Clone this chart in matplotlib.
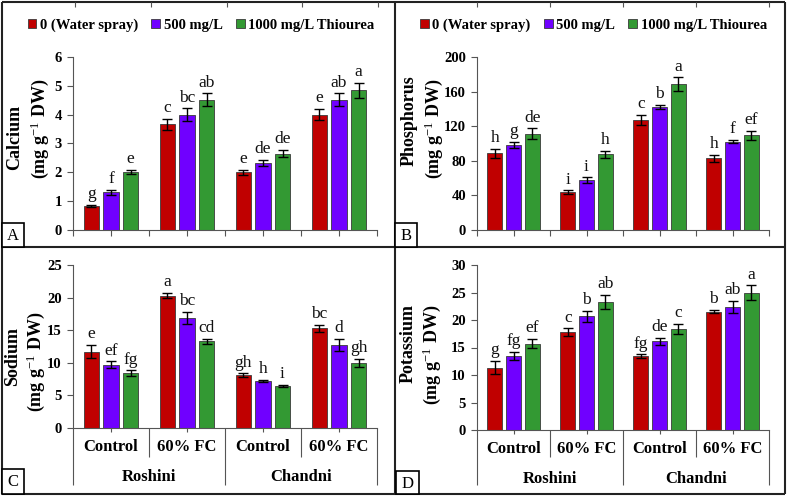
import matplotlib
matplotlib.use("Agg")
import matplotlib.pyplot as plt
from matplotlib.lines import Line2D
from matplotlib.patches import Rectangle, Patch
import numpy as np

plt.rcParams['font.family'] = ['Liberation Serif', 'DejaVu Serif']
plt.rcParams['mathtext.fontset'] = 'custom'
plt.rcParams['mathtext.rm'] = 'Liberation Serif'
plt.rcParams['mathtext.it'] = 'Liberation Serif:italic'
plt.rcParams['mathtext.bf'] = 'Liberation Serif:bold'

# ---------------- data ----------------
series = ['0 (Water spray)', '500 mg/L', '1000 mg/L Thiourea']
colors = ['#C00000', '#7000FF', '#339933']
treatments = ['Control', '60% FC', 'Control', '60% FC']
cultivars = ['Roshini', 'Chandni']

ca_mean = [[0.83, 3.66, 2.00, 4.00],
           [1.31, 4.00, 2.33, 4.52],
           [2.01, 4.52, 2.65, 4.84]]
ca_err = [[0.03, 0.20, 0.08, 0.20],
          [0.08, 0.22, 0.10, 0.22],
          [0.08, 0.22, 0.13, 0.25]]
ca_let = [['g', 'c', 'e', 'e'], ['f', 'bc', 'de', 'ab'], ['e', 'ab', 'de', 'a']]

p_mean = [[88.5, 43.8, 126.9, 83.0],
          [98.8, 57.7, 142.3, 102.3],
          [111.5, 87.7, 168.5, 109.6]]
p_err = [[5.0, 2.0, 6.0, 4.0],
         [3.5, 3.0, 2.0, 1.5],
         [6.0, 4.0, 8.0, 5.0]]
p_let = [['h', 'i', 'c', 'h'], ['g', 'i', 'b', 'f'], ['de', 'h', 'a', 'ef']]

na_mean = [[11.73, 20.30, 8.06, 15.30],
           [9.70, 16.90, 7.24, 12.76],
           [8.40, 13.30, 6.48, 9.95]]
na_err = [[1.07, 0.40, 0.30, 0.50],
          [0.50, 0.90, 0.15, 0.90],
          [0.45, 0.40, 0.15, 0.60]]
na_let = [['e', 'a', 'gh', 'bc'], ['ef', 'bc', 'h', 'd'], ['fg', 'cd', 'i', 'gh']]

k_mean = [[11.33, 17.76, 13.45, 21.50],
          [13.50, 20.70, 16.10, 22.40],
          [15.70, 23.30, 18.40, 25.00]]
k_err = [[1.20, 0.70, 0.30, 0.30],
         [0.70, 1.00, 0.70, 1.10],
         [0.80, 1.30, 0.90, 1.30]]
k_let = [['g', 'c', 'fg', 'b'], ['fg', 'b', 'de', 'ab'], ['ef', 'ab', 'c', 'a']]

unit_label = '(mg g$^{\\mathrm{-1}}$ DW)'

W, H = 789, 498
fig = plt.figure(figsize=(W / 100, H / 100), dpi=100)


def fx(px):
    return px / W


def fy(py):
    return 1 - py / H


def fline(x0, y0, x1, y1, lw=1.0, color='#555555'):
    fig.add_artist(Line2D([fx(x0), fx(x1)], [fy(y0), fy(y1)], lw=lw, color=color,
                          transform=fig.transFigure, solid_capstyle='butt'))


AXC = '#555555'
offs = [-0.257, 0.0, 0.257]
bw = 0.2


def panel(L, R, B, T, ymax, ystep, means, errs, lets, ylab, lab1, lab2, multilevel):
    ax = fig.add_axes([fx(L), fy(B), fx(R) - fx(L), fy(T) - fy(B)])
    ax.set_xlim(0, 4)
    ax.set_ylim(0, ymax)
    x = np.arange(4) + 0.5
    for i in range(3):
        ax.bar(x + offs[i], means[i], bw, color=colors[i], edgecolor='#3a3a3a',
               linewidth=0.6, label=series[i], zorder=2)
        ax.errorbar(x + offs[i], means[i], yerr=errs[i], fmt='none', ecolor='black',
                    elinewidth=1.0, capsize=3.5, capthick=1.0, zorder=3)
        for j in range(4):
            ax.annotate(lets[i][j], (x[j] + offs[i], means[i][j] + errs[i][j]),
                        xytext=(0, 2), textcoords='offset points', ha='center',
                        va='bottom', fontsize=12.5, color='#111111')
    for s in ['top', 'right']:
        ax.spines[s].set_visible(False)
    for s in ['left', 'bottom']:
        ax.spines[s].set_color(AXC)
        ax.spines[s].set_linewidth(0.8)
    ax.set_yticks(np.arange(0, ymax + 0.001, ystep))
    ax.set_yticklabels([str(int(v)) for v in np.arange(0, ymax + 0.001, ystep)])
    ax.tick_params(axis='y', direction='out', length=4, width=0.8, color=AXC,
                   labelsize=10.5, pad=4)
    for t in ax.get_yticklabels():
        t.set_fontweight('bold')
    if multilevel:
        ax.set_xticks(x)
        ax.set_xticklabels([])
        ax.tick_params(axis='x', direction='out', length=3, width=0.8, color=AXC)
        step = (R - L) / 4
        for k in range(5):
            xp = L + k * step
            bottom = 485 if k in (0, 2, 4) else 457
            fline(xp, B, xp, bottom, lw=0.8, color=AXC)
        for j in range(4):
            fig.text(fx(L + (j + 0.5) * step), fy(B + 19), treatments[j], ha='center',
                     va='center', fontsize=12, fontweight='bold')
        for c in range(2):
            fig.text(fx(L + (2 * c + 1) * step), fy(B + 49), cultivars[c], ha='center',
                     va='center', fontsize=12, fontweight='bold')
    else:
        ax.set_xticks(np.arange(5))
        ax.set_xticks(x, minor=True)
        ax.set_xticklabels([])
        ax.tick_params(axis='x', which='both', direction='out', length=4, width=0.8,
                       color=AXC)
    fig.text(fx(lab1[0]), fy(lab1[1]), ylab, rotation=90, ha='center', va='center',
             fontsize=13, fontweight='bold')
    fig.text(fx(lab2[0]), fy(lab2[1]), unit_label, rotation=90, ha='center',
             va='center', fontsize=13, fontweight='bold')
    return ax


axA = panel(73, 377, 230, 57, 6, 1, ca_mean, ca_err, ca_let,
            'Calcium', (15, 137), (40, 129), False)
axB = panel(477, 769, 230, 57, 200, 40, p_mean, p_err, p_let,
            'Phosphorus', (409, 121), (434, 129), False)
axC = panel(73, 377, 428, 265, 25, 5, na_mean, na_err, na_let,
            'Sodium', (13, 356), (36, 362), True)
axD = panel(477, 769, 430, 265, 30, 5, k_mean, k_err, k_let,
            'Potassium', (408, 343), (432, 355), True)

# legends
for ax, cx in [(axA, (32 + 370) / 2), (axB, (425 + 762) / 2)]:
    handles = [Patch(facecolor=colors[i], edgecolor='#3a3a3a', linewidth=0.6)
               for i in range(3)]
    ax.legend(handles, series, ncol=3, loc='center',
              bbox_to_anchor=(fx(cx), fy(25)), bbox_transform=fig.transFigure,
              frameon=False, handlelength=0.6, handleheight=0.6, handletextpad=0.25,
              columnspacing=0.9, borderpad=0, borderaxespad=0,
              prop={'family': 'Liberation Serif', 'weight': 'bold', 'size': 10.5})

# borders
BC = '#222222'
fline(2, 2, 785, 2, lw=1.5, color=BC)
fline(2, 494, 785, 494, lw=1.5, color=BC)
fline(2, 2, 2, 494, lw=1.5, color=BC)
fline(785, 2, 785, 494, lw=1.5, color=BC)
fline(2, 247, 785, 247, lw=1.5, color=BC)
fline(395, 2, 395, 494, lw=1.5, color=BC)

# small ticks on top border
for L, R in [(75, 378), (477, 769)]:
    for k in range(5):
        xp = L + k * (R - L) / 4
        fline(xp, 2, xp, 7, lw=0.8, color=AXC)

# panel label boxes
for lab, x0, y0, x1, y1 in [('A', 2, 223, 24, 247), ('B', 395, 223, 417, 247),
                            ('C', 2, 469, 24, 494), ('D', 396, 471, 419, 494)]:
    fig.add_artist(Rectangle((fx(x0), fy(y1)), fx(x1) - fx(x0), fy(y0) - fy(y1),
                             transform=fig.transFigure, facecolor='white',
                             edgecolor='black', linewidth=1.2, zorder=5))
    fig.text(fx((x0 + x1) / 2), fy((y0 + y1) / 2 + 1), lab, ha='center', va='center',
             fontsize=12, zorder=6)

fig.savefig('out.png', dpi=100)
